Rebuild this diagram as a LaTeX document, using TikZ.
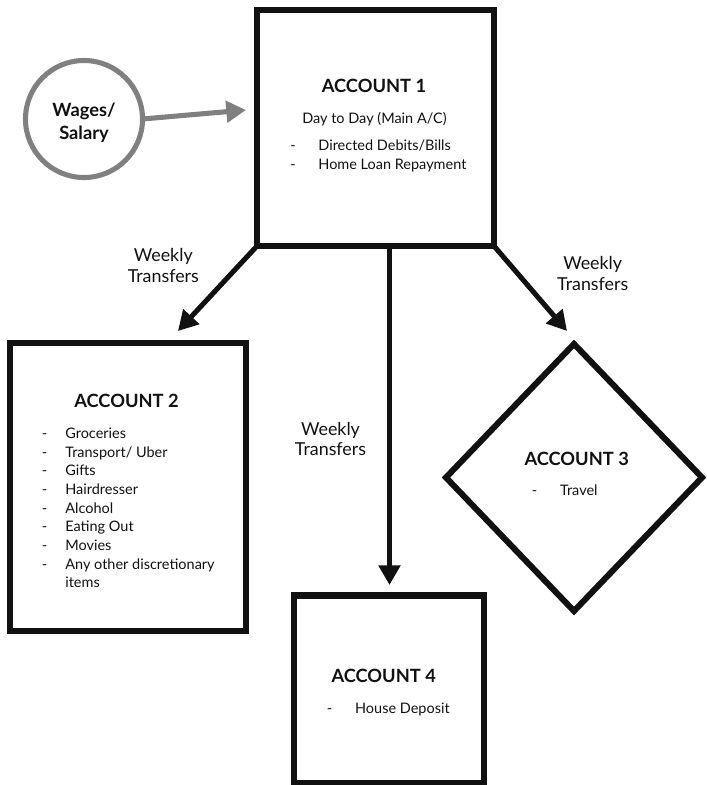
\documentclass[tikz,border=0pt]{standalone}
\usepackage{fontspec}
\setmainfont{Lato}
\usetikzlibrary{shapes.geometric,arrows.meta}
\definecolor{ink}{HTML}{111111}
\definecolor{wagegrey}{HTML}{808080}
\begin{document}
\begin{tikzpicture}[x=0.025cm,y=-0.025cm,
  acct/.style={draw=ink,line width=4.3pt,inner sep=0pt,outer sep=0pt},
  flow/.style={draw=ink,line width=3.6pt,-{Triangle[length=14pt,width=15pt]}},
  head/.style={anchor=base,inner sep=0pt,text=ink,font=\fontsize{13}{16}\selectfont\bfseries},
  note/.style={anchor=base,inner sep=0pt,text=ink,font=\fontsize{10.3}{13.3}\selectfont},
  weekly/.style={anchor=base,inner sep=0pt,text=ink,font=\fontsize{12.7}{14.9}\selectfont}]
\useasboundingbox (0,0) rectangle (706,785);
% boxes
\node[acct,minimum width=5.925cm,minimum height=5.9cm] (acc1) at (375.5,128) {};
\node[acct,minimum width=5.9cm,minimum height=7.2cm] (acc2) at (128,487) {};
\node[acct,diamond,minimum width=6.4cm,minimum height=6.675cm] (acc3) at (574,477.5) {};
\node[acct,minimum width=4.75cm,minimum height=4.675cm] (acc4) at (389,689) {};
\node[circle,draw=wagegrey,line width=3.6pt,inner sep=0pt,outer sep=0pt,minimum size=2.925cm] (wages) at (84,119) {};
% arrow tips
\coordinate (tip1) at (246,110);
\coordinate (tip2) at (178,331);
\coordinate (tip3) at (567,331);
\coordinate (tip4) at (389.5,585);
\draw[flow,draw=wagegrey] (wages.east) -- (tip1);
\draw[flow] (acc1.south west) -- (tip2);
\draw[flow] (acc1.south east) -- (tip3);
\draw[flow] (acc1.south -| tip4) -- (tip4);
% texts
\node[head] (wagestext) at (84,116.7) {\begin{tabular}[t]{@{}c@{}}Wages/\\Salary\end{tabular}};
\node[head] (a1head) at (374,92.3) {ACCOUNT 1};
\node[note] (a1sub) at (374.5,123.3) {Day to Day (Main A/C)};
\node[note,anchor=base west] (a1list) at (290,150.7) {\begin{tabular}[t]{@{}p{20pt}@{}l@{}}
- & Directed Debits/Bills\\
- & Home Loan Repayment\end{tabular}};
\node[head] (a2head) at (126.5,407.3) {ACCOUNT 2};
\node[note,anchor=base west] (a2list) at (41.7,438.3) {\begin{tabular}[t]{@{}p{16.6pt}@{}l@{}}
- & Groceries\\
- & Transport/ Uber\\
- & Gifts\\
- & Hairdresser\\
- & Alcohol\\
- & Eating Out\\
- & Movies\\
- & Any other discretionary\\
  & items\end{tabular}};
\node[head] (a3head) at (576.7,465) {ACCOUNT 3};
\node[note,anchor=base west] (a3list) at (531.7,495) {\begin{tabular}[t]{@{}p{20pt}@{}l@{}}
- & Travel\end{tabular}};
\node[head] (a4head) at (383.7,682.7) {ACCOUNT 4};
\node[note,anchor=base west] (a4list) at (326.7,713.3) {\begin{tabular}[t]{@{}p{20pt}@{}l@{}}
- & House Deposit\end{tabular}};
\node[weekly] (wk2) at (163.3,261.7) {\begin{tabular}[t]{@{}c@{}}Weekly\\Transfers\end{tabular}};
\node[weekly] (wk4) at (330.5,435) {\begin{tabular}[t]{@{}c@{}}Weekly\\Transfers\end{tabular}};
\node[weekly] (wk3) at (592.7,269.3) {\begin{tabular}[t]{@{}c@{}}Weekly\\Transfers\end{tabular}};
\end{tikzpicture}
\end{document}
